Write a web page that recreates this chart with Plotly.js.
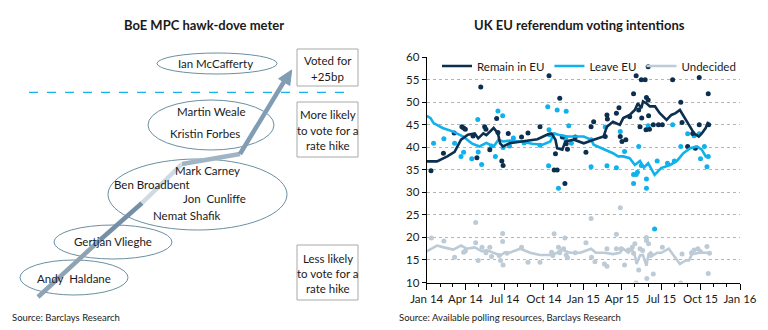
<!DOCTYPE html>
<html>
<head>
<meta charset="utf-8">
<script src="https://cdn.plot.ly/plotly-3.0.1.min.js"></script>
<style>
html,body{margin:0;padding:0;background:#fff;}
#chart{width:768px;height:330px;}
</style>
</head>
<body>
<div id="chart"></div>
<script>
// ---------------- DATA ----------------
const seriesNames = ["Remain in EU", "Leave EU", "Undecided"];

const remainPollDates = ["2014-01-11","2014-02-09","2014-03-06","2014-03-24","2014-03-28","2014-04-01","2014-04-19","2014-04-28","2014-05-07","2014-05-16","2014-05-19","2014-05-28","2014-06-13","2014-06-16","2014-06-25","2014-06-28","2014-07-10","2014-08-10","2014-08-25","2014-09-22","2014-10-13","2014-10-25","2014-10-28","2014-11-01","2014-11-07","2014-11-13","2014-11-19","2014-11-22","2014-11-25","2014-12-13","2015-01-07","2015-01-19","2015-01-25","2015-02-21","2015-02-25","2015-02-26","2015-03-19","2015-03-25","2015-03-28","2015-04-01","2015-04-10","2015-04-19","2015-04-28","2015-05-04","2015-05-10","2015-05-13","2015-05-16","2015-05-17","2015-05-25","2015-05-27","2015-05-28","2015-06-01","2015-06-01","2015-06-02","2015-06-04","2015-06-13","2015-06-25","2015-07-04","2015-07-28","2015-08-16","2015-08-19","2015-09-01","2015-09-13","2015-09-19","2015-09-28","2015-09-28","2015-10-19","2015-10-20"];
const remainPollValues = [34.8,38.7,43.2,44.6,44.3,44.0,42.5,37.7,53.4,44.6,44.0,39.5,46.4,43.3,37.0,36.0,43.1,42.3,43.2,44.6,55.9,35.0,38.6,35.0,50.9,42.3,32.0,40.8,39.6,42.3,38.9,44.6,45.7,42.4,47.2,46.3,47.6,48.8,42.4,41.3,41.7,46.8,51.9,55.9,48.3,44.6,55.0,46.5,55.0,43.9,51.1,50.5,57.9,47.0,44.0,45.0,45.0,45.0,55.0,50.0,45.5,40.2,43.1,39.8,55.5,45.0,51.9,45.0];

const leavePollDates = ["2014-01-17","2014-02-10","2014-03-07","2014-03-22","2014-03-28","2014-04-16","2014-04-30","2014-05-01","2014-05-09","2014-06-01","2014-06-10","2014-06-16","2014-06-27","2014-06-28","2014-07-13","2014-07-22","2014-08-16","2014-09-22","2014-10-10","2014-10-12","2014-10-13","2014-10-14","2014-11-01","2014-11-04","2014-11-21","2014-11-22","2014-11-28","2014-12-04","2015-01-19","2015-01-19","2015-02-21","2015-02-25","2015-03-19","2015-03-28","2015-04-07","2015-04-28","2015-04-28","2015-05-04","2015-05-07","2015-05-10","2015-05-16","2015-05-28","2015-05-28","2015-06-01","2015-06-16","2015-06-22","2015-07-16","2015-07-28","2015-08-01","2015-08-16","2015-09-01","2015-09-16","2015-09-28","2015-10-01","2015-10-10","2015-10-16","2015-10-19"];
const leavePollValues = [40.9,41.9,40.9,38.0,38.9,37.5,46.2,39.0,36.2,40.3,38.0,48.1,47.0,40.0,40.3,42.1,41.0,40.5,49.0,35.9,43.9,42.8,48.3,30.9,41.8,48.0,44.8,40.9,41.7,35.7,44.5,35.9,35.5,43.5,39.1,34.0,32.0,34.0,34.5,40.2,36.0,33.0,30.9,44.8,21.9,37.0,36.5,45.0,37.0,40.2,43.0,42.6,43.0,37.5,40.2,35.7,38.0];

const undecidedPollDates = ["2014-01-12","2014-02-10","2014-03-07","2014-03-28","2014-04-01","2014-04-25","2014-04-25","2014-05-01","2014-05-10","2014-05-19","2014-05-28","2014-06-01","2014-06-19","2014-06-22","2014-06-27","2014-06-27","2014-06-28","2014-07-07","2014-08-10","2014-08-25","2014-09-22","2014-10-19","2014-10-22","2014-10-25","2014-11-04","2014-11-07","2014-11-16","2014-11-19","2014-11-22","2014-11-25","2014-12-13","2015-01-07","2015-01-19","2015-01-20","2015-01-28","2015-02-19","2015-02-25","2015-02-25","2015-03-19","2015-03-19","2015-03-28","2015-03-30","2015-04-07","2015-04-16","2015-04-25","2015-04-28","2015-05-01","2015-05-04","2015-05-10","2015-05-13","2015-05-19","2015-05-28","2015-05-28","2015-05-29","2015-06-02","2015-06-07","2015-06-13","2015-07-04","2015-08-16","2015-08-19","2015-09-10","2015-09-16","2015-09-25","2015-10-01","2015-10-16","2015-10-19","2015-10-22"];
const undecidedPollValues = [19.9,19.2,15.6,16.7,17.0,18.8,23.3,14.9,17.8,16.6,17.8,15.8,16.0,14.9,20.9,19.1,13.9,16.5,17.8,14.5,14.5,16.7,16.0,20.8,17.8,16.6,17.5,19.9,16.1,15.5,16.6,18.8,24.2,15.6,14.6,14.1,13.6,17.5,20.7,17.5,26.6,17.5,13.9,17.2,17.8,16.5,18.6,9.9,12.8,17.5,17.1,20.0,19.3,10.9,18.6,16.0,11.9,17.8,9.9,16.3,16.6,17.2,17.5,16.8,18.0,12.0,16.5];

const remainTrendDates = ["2014-01-01","2014-01-25","2014-02-18","2014-03-07","2014-03-22","2014-04-07","2014-04-23","2014-05-01","2014-05-13","2014-05-20","2014-06-06","2014-06-16","2014-06-21","2014-06-28","2014-07-13","2014-08-16","2014-09-16","2014-10-08","2014-10-19","2014-10-28","2014-11-01","2014-11-13","2014-11-20","2014-12-10","2015-01-02","2015-01-25","2015-02-17","2015-02-25","2015-03-11","2015-03-27","2015-04-04","2015-04-19","2015-05-01","2015-05-08","2015-05-16","2015-05-20","2015-05-28","2015-06-05","2015-06-17","2015-06-28","2015-07-14","2015-07-25","2015-08-04","2015-08-14","2015-08-27","2015-09-04","2015-09-16","2015-09-27","2015-10-04","2015-10-13","2015-10-19"];
const remainTrendValues = [36.9,36.9,38.0,39.0,41.7,42.8,43.1,42.0,43.1,42.7,44.3,43.1,40.9,40.2,40.9,41.3,41.8,42.8,43.1,41.7,39.8,39.5,41.3,41.7,40.9,41.7,42.4,44.6,45.7,45.0,46.5,47.2,48.3,49.8,48.7,50.2,49.8,49.1,49.1,47.6,46.1,47.2,47.6,48.3,46.1,45.0,43.1,42.4,43.1,44.3,45.7];

const leaveTrendDates = ["2014-01-01","2014-01-10","2014-01-17","2014-02-07","2014-03-04","2014-03-27","2014-04-16","2014-05-04","2014-05-20","2014-06-06","2014-06-17","2014-06-28","2014-07-13","2014-08-07","2014-09-04","2014-09-28","2014-10-16","2014-10-25","2014-11-04","2014-11-25","2015-01-02","2015-01-19","2015-01-25","2015-02-21","2015-03-11","2015-03-23","2015-04-04","2015-04-19","2015-05-01","2015-05-13","2015-05-22","2015-06-01","2015-06-16","2015-07-01","2015-07-22","2015-08-07","2015-08-22","2015-09-07","2015-09-23","2015-10-04","2015-10-13","2015-10-19"];
const leaveTrendValues = [47.0,46.5,45.4,44.3,43.5,42.4,40.9,40.2,41.0,40.2,41.7,41.3,41.5,41.3,40.8,40.6,41.3,43.1,42.8,42.4,42.4,41.7,40.6,39.5,38.7,38.0,38.0,37.6,36.1,37.0,35.5,36.5,33.9,35.4,36.1,37.0,38.7,39.8,40.2,39.5,38.0,37.8];

const undecidedTrendDates = ["2014-01-01","2014-01-10","2014-01-25","2014-02-10","2014-03-04","2014-03-22","2014-04-04","2014-04-23","2014-05-10","2014-05-20","2014-06-06","2014-06-22","2014-07-02","2014-07-13","2014-08-07","2014-08-30","2014-09-22","2014-10-16","2014-11-01","2014-11-10","2014-12-01","2014-12-25","2015-01-19","2015-01-30","2015-02-19","2015-03-11","2015-03-27","2015-04-04","2015-04-16","2015-04-23","2015-05-01","2015-05-05","2015-05-13","2015-05-20","2015-05-28","2015-06-02","2015-06-07","2015-06-13","2015-06-22","2015-07-02","2015-07-19","2015-07-28","2015-08-14","2015-08-27","2015-09-04","2015-09-11","2015-09-28","2015-10-08","2015-10-19"];
const undecidedTrendValues = [16.9,17.4,18.2,17.8,17.3,18.2,17.5,17.8,16.9,17.2,16.6,16.0,16.7,16.6,17.5,16.6,16.1,16.1,16.6,17.3,16.6,16.6,17.5,16.6,16.6,16.3,16.6,17.5,16.6,17.5,16.0,14.1,16.0,16.1,13.7,16.3,16.7,16.1,16.6,16.6,17.5,16.4,14.1,14.9,14.9,16.3,16.6,16.6,16.6];

const xTickVals = ["2014-01-01","2014-04-01","2014-07-01","2014-10-01","2015-01-01","2015-04-01","2015-07-01","2015-10-01","2016-01-01"];
const xTickText = ["Jan 14","Apr 14","Jul 14","Oct 14","Jan 15","Apr 15","Jul 15","Oct 15","Jan 16"];
const yTickVals = [10,15,20,25,30,35,40,45,50,55,60];

const mpcGroups = [
  ["Ian McCafferty"],
  ["Martin Weale","Kristin Forbes"],
  ["Mark Carney","Ben Broadbent","Jon  Cunliffe","Nemat Shafik"],
  ["Gertjan Vlieghe"],
  ["Andy  Haldane"]
];
const boxTexts = [
  ["Voted for","+25bp"],
  ["More likely","to vote for a","rate hike"],
  ["Less likely","to vote for a","rate hike"]
];

// ---------------- STYLE ----------------
const W = 768, H = 330;
const FONT = "Lato, 'Open Sans', sans-serif";
const cRemain = "#0c2f4f", cLeave = "#0fb2ec", cUnd = "#bccbd6";
const px = x => x / W;
const py = y => 1 - y / H;

const traces = [
  {x: undecidedPollDates, y: undecidedPollValues, type: "scatter", mode: "markers", marker: {color: cUnd, size: 5}, showlegend: false, hoverinfo: "skip"},
  {x: leavePollDates, y: leavePollValues, type: "scatter", mode: "markers", marker: {color: cLeave, size: 5}, showlegend: false, hoverinfo: "skip"},
  {x: remainPollDates, y: remainPollValues, type: "scatter", mode: "markers", marker: {color: cRemain, size: 5}, showlegend: false, hoverinfo: "skip"},
  {x: undecidedTrendDates, y: undecidedTrendValues, type: "scatter", mode: "lines", name: seriesNames[2], line: {color: cUnd, width: 2.6}, legendrank: 3},
  {x: leaveTrendDates, y: leaveTrendValues, type: "scatter", mode: "lines", name: seriesNames[1], line: {color: cLeave, width: 2.6}, legendrank: 2},
  {x: remainTrendDates, y: remainTrendValues, type: "scatter", mode: "lines", name: seriesNames[0], line: {color: cRemain, width: 2.6}, legendrank: 1}
];

// Left-panel geometry (pixels)
const ellipses = [
  [157, 53, 277, 74],
  [148, 100, 274, 150],
  [108, 159, 287, 230],
  [54, 225, 172, 259],
  [20, 260, 128, 295]
];
const nameSpots = [
  [[215, 63]],
  [[211, 112], [205, 133]],
  [[207, 170], [152, 185], [214, 198], [187, 215]],
  [[113, 242]],
  [[74, 278]]
];
const boxes = [[297, 49, 358, 86], [297, 102, 358, 157], [297, 245, 358, 300]];
const boxLineY = [[60, 76], [114, 130, 145], [258, 273, 288]];

const shapes = [];
const annotations = [];

ellipses.forEach(e => shapes.push({type: "circle", xref: "paper", yref: "paper",
  x0: px(e[0]), x1: px(e[2]), y0: py(e[3]), y1: py(e[1]),
  line: {color: "#6b8fa1", width: 1}, fillcolor: "rgba(0,0,0,0)", layer: "above"}));
boxes.forEach(b => shapes.push({type: "rect", xref: "paper", yref: "paper",
  x0: px(b[0]), x1: px(b[2]), y0: py(b[3]), y1: py(b[1]),
  line: {color: "#a9a9a9", width: 1}, fillcolor: "rgba(0,0,0,0)"}));
// dashed threshold line
shapes.push({type: "line", xref: "paper", yref: "paper", x0: px(29), x1: px(347), y0: py(92.3), y1: py(92.3),
  line: {color: "#12b5ee", width: 1.2, dash: "dash"}});
// arrow segments
function seg(a, b, color) {
  shapes.push({type: "line", xref: "paper", yref: "paper", x0: px(a[0]), y0: py(a[1]), x1: px(b[0]), y1: py(b[1]),
    line: {color: color, width: 4.5}});
}
seg([38, 297], [100, 240], "#8ea3b3");
seg([100, 240], [142, 203], "#7590a6");
seg([142, 203], [182, 164], "#cfdbe3");
seg([182, 164], [240, 154], "#9fb4c4");
seg([240, 154], [285, 80], "#809db3");
{
  const tip = [291.7, 70], base1 = [289.8, 85.5], base2 = [278.6, 78.7];
  shapes.push({type: "path", xref: "paper", yref: "paper",
    path: `M ${px(tip[0])} ${py(tip[1])} L ${px(base1[0])} ${py(base1[1])} L ${px(base2[0])} ${py(base2[1])} Z`,
    fillcolor: "#809db3", line: {color: "#809db3", width: 1}});
}

function txt(x, y, s, size, opts) {
  annotations.push(Object.assign({xref: "paper", yref: "paper", x: px(x), y: py(y), text: s, showarrow: false,
    xanchor: "center", yanchor: "middle", font: {family: FONT, size: size, color: "#1a1a1a"}}, opts || {}));
}
mpcGroups.forEach((g, i) => g.forEach((n, j) => txt(nameSpots[i][j][0], nameSpots[i][j][1], n, 11.5)));
boxTexts.forEach((lines, i) => lines.forEach((l, j) => txt((boxes[i][0] + boxes[i][2]) / 2, boxLineY[i][j], l, 11.5)));

txt(204, 25, "<b>BoE MPC hawk-dove meter</b>", 13);
txt(579, 25, "<b>UK EU referendum voting intentions</b>", 13);
txt(10, 317, "Source: Barclays Research", 9.5, {xanchor: "left"});
txt(397, 317, "Source: Available polling resources, Barclays Research", 9.5, {xanchor: "left"});

const layout = {
  width: W, height: H,
  margin: {l: 0, r: 0, t: 0, b: 0},
  paper_bgcolor: "#fff", plot_bgcolor: "rgba(0,0,0,0)",
  font: {family: FONT, size: 11, color: "#1a1a1a"},
  showlegend: true,
  legend: {orientation: "h", x: px(437), y: py(66), xanchor: "left", yanchor: "middle",
    bgcolor: "rgba(0,0,0,0)", font: {family: FONT, size: 11.5, color: "#1a1a1a"}, itemwidth: 30, traceorder: "normal"},
  xaxis: {
    type: "date", domain: [px(426.7), px(740)], range: ["2014-01-01", "2016-01-01"],
    tickvals: xTickVals, ticktext: xTickText, showgrid: false, zeroline: false,
    showline: true, linecolor: "#000", linewidth: 1, ticks: "outside", ticklen: 6, tickcolor: "#000",
    tickfont: {family: FONT, size: 11.5, color: "#1a1a1a"},
    minor: {dtick: "M1", ticks: "outside", ticklen: 3, tickcolor: "#000", showgrid: false},
    fixedrange: true
  },
  yaxis: {
    domain: [py(282.5), py(57.3)], range: [10, 60], tickvals: yTickVals,
    showgrid: true, gridcolor: "#b5b5b5", griddash: "dot", gridwidth: 1, zeroline: false,
    showline: true, linecolor: "#000", linewidth: 1, ticks: "outside", ticklen: 4, tickcolor: "#000",
    tickfont: {family: FONT, size: 11.5, color: "#1a1a1a"}, fixedrange: true
  },
  shapes: shapes,
  annotations: annotations
};

Plotly.newPlot("chart", traces, layout, {displayModeBar: false, staticPlot: true});
</script>
</body>
</html>
